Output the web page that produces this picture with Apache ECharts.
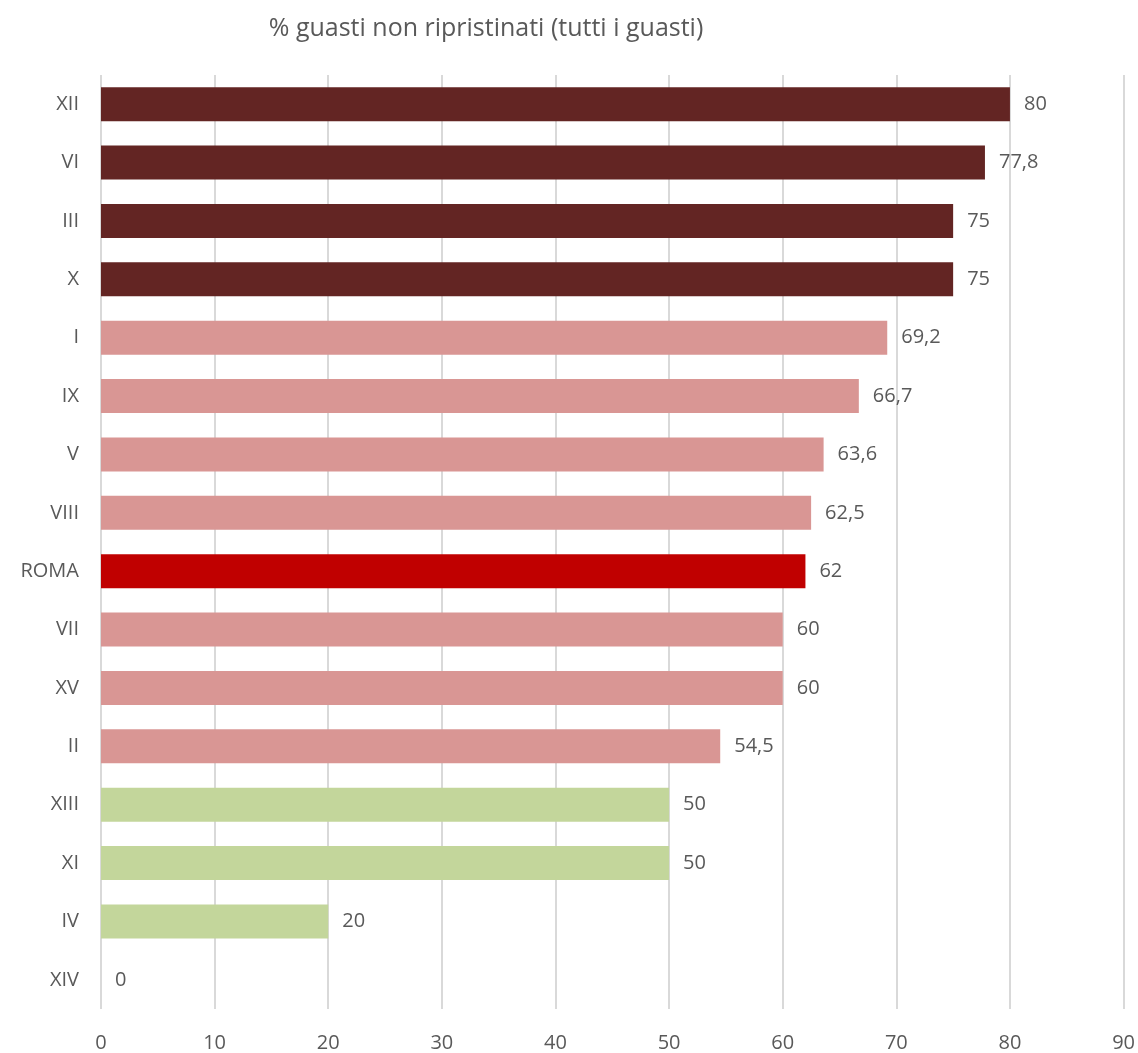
<!DOCTYPE html>
<html>
<head>
<meta charset="utf-8">
<script src="https://cdn.jsdelivr.net/npm/echarts@6/dist/echarts.min.js"></script>
<style>
  html, body { margin: 0; padding: 0; background: #fff; }
  #chart { width: 1138px; height: 1053px; }
</style>
</head>
<body>
<div id="chart"></div>
<script>
// municipi, top to bottom
const categories = ['XII', 'VI', 'III', 'X', 'I', 'IX', 'V', 'VIII', 'ROMA', 'VII', 'XV', 'II', 'XIII', 'XI', 'IV', 'XIV']
const values = [80, 77.8, 75, 75, 69.2, 66.7, 63.6, 62.5, 62, 60, 60, 54.5, 50, 50, 20, 0]
// colour group for each bar: high / mid / roma / low
const groups = ['high', 'high', 'high', 'high', 'mid', 'mid', 'mid', 'mid', 'roma', 'mid', 'mid', 'mid', 'low', 'low', 'low', 'low']
const groupColors = {
  high: '#632523',
  mid: '#d99694',
  roma: '#c00000',
  low: '#c3d69b'
}

const font = '"Open Sans", sans-serif'
const textColor = '#595959'

const chart = echarts.init(document.getElementById('chart'))

chart.setOption({
  backgroundColor: '#fff',
  animation: false,
  title: {
    text: '% guasti non ripristinati (tutti i guasti)',
    left: 481,
    textAlign: 'center',
    top: 11,
    textStyle: {
      fontFamily: font,
      fontSize: 25,
      fontWeight: 'normal',
      color: textColor
    }
  },
  grid: {
    left: 101,
    right: 13,
    top: 75,
    bottom: 42,
    containLabel: false
  },
  xAxis: {
    type: 'value',
    min: 0,
    max: 90,
    interval: 10,
    axisLine: { show: false },
    axisTick: { show: false },
    splitLine: { lineStyle: { color: '#d9d9d9', width: 2 } },
    axisLabel: {
      margin: 24,
      fontFamily: font,
      fontSize: 20,
      color: textColor
    }
  },
  yAxis: {
    type: 'category',
    inverse: true,
    data: categories,
    axisLine: { show: false },
    axisTick: { show: false },
    axisLabel: {
      margin: 22,
      fontFamily: font,
      fontSize: 20,
      color: textColor
    }
  },
  series: [
    {
      type: 'bar',
      barWidth: 34,
      data: values.map((v, i) => ({
        value: v,
        itemStyle: { color: groupColors[groups[i]] }
      })),
      label: {
        show: true,
        position: 'right',
        distance: 14,
        fontFamily: font,
        fontSize: 20,
        color: textColor,
        formatter: p => String(p.value).replace('.', ',')
      }
    }
  ]
})
</script>
</body>
</html>
